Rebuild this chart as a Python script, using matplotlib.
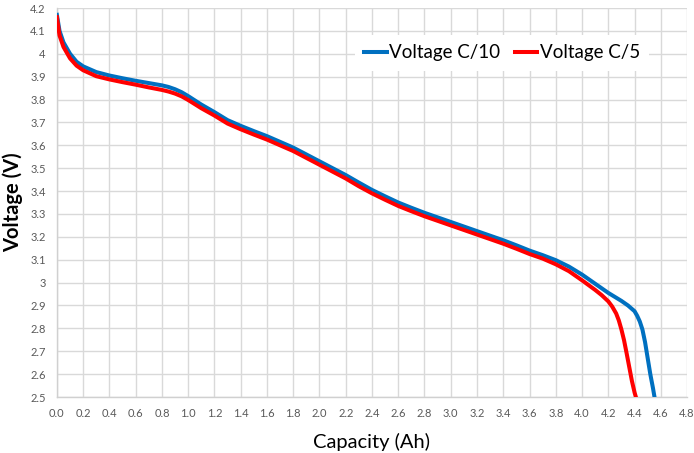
import numpy as np
import matplotlib
matplotlib.use('Agg')
import matplotlib.pyplot as plt
from matplotlib.ticker import MultipleLocator, FuncFormatter

# ---- Data ----

cap_c10 = [0.0, 0.02, 0.05, 0.1, 0.15, 0.2, 0.3, 0.4, 0.5, 0.6, 0.7, 0.8, 0.85,
           0.9, 0.95, 1.0, 1.1, 1.2, 1.3, 1.4, 1.5, 1.6, 1.7, 1.8, 1.9, 2.0,
           2.1, 2.2, 2.3, 2.4, 2.5, 2.6, 2.7, 2.8, 2.9, 3.0, 3.1, 3.2, 3.3,
           3.4, 3.5, 3.6, 3.7, 3.8, 3.9, 4.0, 4.1, 4.2, 4.3, 4.35, 4.4, 4.42,
           4.44, 4.46, 4.48, 4.5, 4.52, 4.54, 4.555]
volt_c10 = [4.17, 4.10, 4.05, 4.00, 3.965, 3.945, 3.92, 3.905, 3.893, 3.882,
            3.872, 3.862, 3.855, 3.845, 3.832, 3.815, 3.778, 3.745, 3.71,
            3.685, 3.662, 3.64, 3.615, 3.59, 3.56, 3.53, 3.50, 3.47, 3.437,
            3.405, 3.377, 3.35, 3.327, 3.305, 3.285, 3.265, 3.245, 3.225,
            3.205, 3.185, 3.163, 3.14, 3.12, 3.098, 3.07, 3.035, 2.995, 2.955,
            2.92, 2.90, 2.875, 2.855, 2.83, 2.795, 2.74, 2.67, 2.60, 2.54,
            2.49]

cap_c5 = [0.0, 0.02, 0.05, 0.1, 0.15, 0.2, 0.3, 0.4, 0.5, 0.6, 0.7, 0.8, 0.85,
          0.9, 0.95, 1.0, 1.1, 1.2, 1.3, 1.4, 1.5, 1.6, 1.7, 1.8, 1.9, 2.0,
          2.1, 2.2, 2.3, 2.4, 2.5, 2.6, 2.7, 2.8, 2.9, 3.0, 3.1, 3.2, 3.3,
          3.4, 3.5, 3.6, 3.7, 3.8, 3.9, 4.0, 4.1, 4.15, 4.2, 4.23, 4.26,
          4.28, 4.3, 4.32, 4.34, 4.36, 4.38, 4.4, 4.415]
volt_c5 = [4.16, 4.08, 4.03, 3.98, 3.948, 3.928, 3.902, 3.888, 3.876, 3.865,
           3.853, 3.842, 3.835, 3.826, 3.814, 3.798, 3.762, 3.73, 3.695, 3.67,
           3.647, 3.625, 3.600, 3.575, 3.545, 3.515, 3.485, 3.455, 3.421,
           3.39, 3.362, 3.335, 3.312, 3.29, 3.27, 3.25, 3.23, 3.21, 3.19,
           3.17, 3.148, 3.125, 3.105, 3.08, 3.05, 3.01, 2.968, 2.945, 2.918,
           2.895, 2.865, 2.835, 2.795, 2.748, 2.69, 2.63, 2.57, 2.52, 2.49]

series_labels = ['Voltage C/10', 'Voltage C/5']

plt.rcParams['font.family'] = ['Lato', 'DejaVu Sans']

fig = plt.figure(figsize=(6.94, 4.53), dpi=100)
ax = fig.add_axes([0.082, 0.1236, 0.908, 0.8587])

ax.plot(cap_c10, volt_c10, color='#0070C0', linewidth=2.9,
        solid_joinstyle='round', label=series_labels[0], zorder=3)
ax.plot(cap_c5, volt_c5, color='#FF0000', linewidth=2.9,
        solid_joinstyle='round', label=series_labels[1], zorder=3)

ax.set_xlim(0, 4.8)
ax.set_ylim(2.5, 4.2)
ax.xaxis.set_major_locator(MultipleLocator(0.2))
ax.yaxis.set_major_locator(MultipleLocator(0.1))
ax.xaxis.set_major_formatter(FuncFormatter(lambda v, p: f'{v:.1f}'))
ax.yaxis.set_major_formatter(FuncFormatter(lambda v, p: f'{round(v, 1):g}'))

ax.grid(True, color='#d9d9d9', linewidth=1.0, zorder=0)
ax.set_axisbelow(True)
for side in ['top', 'right']:
    ax.spines[side].set_visible(False)
for side in ['left', 'bottom']:
    ax.spines[side].set_color('#d0d0d0')
    ax.spines[side].set_linewidth(1.0)
ax.tick_params(length=0, labelsize=8, colors='#595959', pad=8)

ax.set_xlabel('Capacity (Ah)', fontsize=14.5, labelpad=10)
ax.set_ylabel('Voltage (V)', fontsize=14.5, fontweight='bold', labelpad=5)

ax.legend(loc='upper right', bbox_to_anchor=(0.955, 0.955), ncol=2,
          frameon=True, facecolor='white', edgecolor='none', framealpha=1,
          fontsize=13.5, handlelength=1.2, handletextpad=0.12,
          columnspacing=0.8, borderpad=0.5)

fig.savefig('out.png', dpi=100)
